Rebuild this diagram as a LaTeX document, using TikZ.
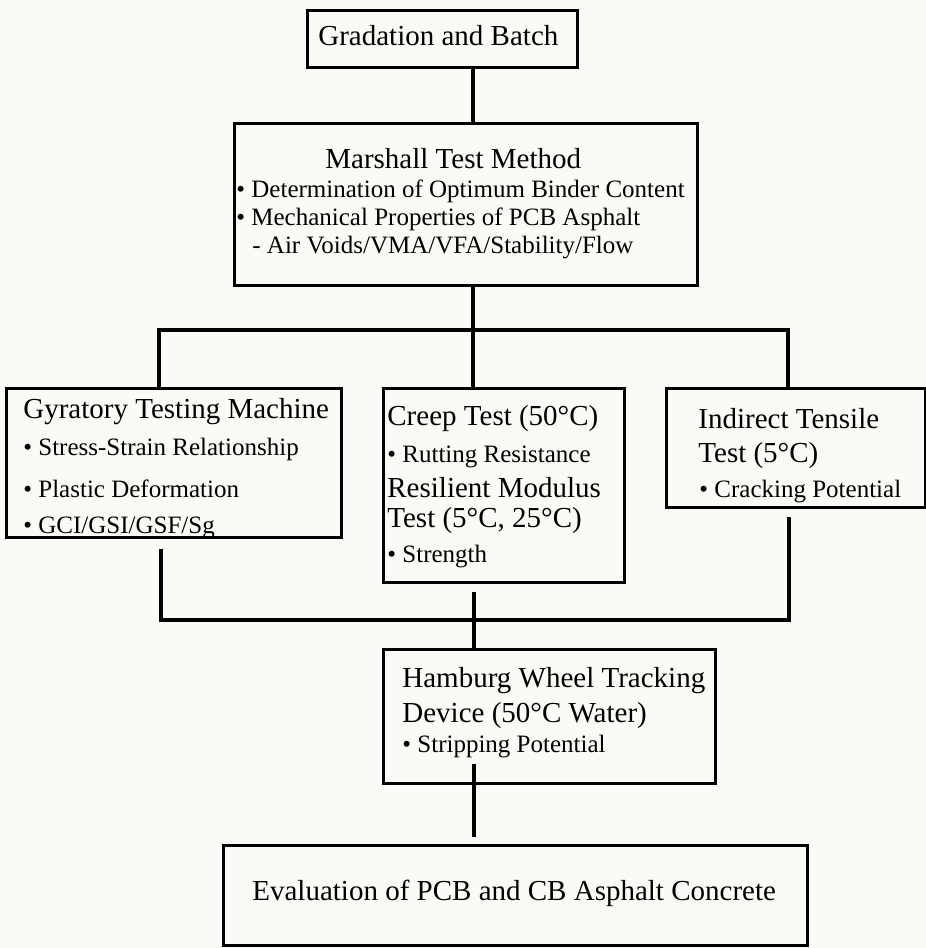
\documentclass[tikz,border=0pt]{standalone}
\usepackage{fontspec}
\setmainfont{Liberation Serif}
\usetikzlibrary{fit}
\definecolor{paper}{RGB}{250,250,246}
\tikzset{
  box/.style={draw, line width=1.5pt, inner sep=0pt},
  head/.style={anchor=base west, inner sep=0pt, font=\fontsize{14.5}{17}\selectfont},
  item/.style={anchor=base west, inner sep=0pt, font=\fontsize{12.5}{15}\selectfont},
  link/.style={line width=1.6pt},
}

\begin{document}
\begin{tikzpicture}[x=0.5pt,y=-0.5pt]
  \fill[paper] (0,0) rectangle (926,948);
  \useasboundingbox (0,0) rectangle (926,948);

  % boxes
  \node[box, fit={(307,10) (577,67)}] (gradation) {};
  \node[box, fit={(234,123) (697,285)}] (marshall) {};
  \node[box, fit={(6,388) (341,537)}] (gyratory) {};
  \node[box, fit={(383,388) (624,582)}] (creep) {};
  \node[box, fit={(666,388) (925,507)}] (indirect) {};
  \node[box, fit={(383,649) (715,783)}] (hamburg) {};
  \node[box, fit={(223,845) (807,945)}] (evaluation) {};

  % texts
  \node[head] (gradation-1) at (318,45) {Gradation and Batch};

  \node[head] (marshall-1) at (325,168) {Marshall Test Method};
  \node[item] (marshall-2) at (236,197) {• Determination of Optimum Binder Content};
  \node[item] (marshall-3) at (236,225) {• Mechanical Properties of PCB Asphalt};
  \node[item] (marshall-4) at (252,253) {- Air Voids/VMA/VFA/Stability/Flow};

  \node[head] (gyratory-1) at (23,418) {Gyratory Testing Machine};
  \node[item] (gyratory-2) at (23,455) {• Stress-Strain Relationship};
  \node[item] (gyratory-3) at (23,497) {• Plastic Deformation};
  \node[item] (gyratory-4) at (23,533) {• GCI/GSI/GSF/Sg};

  \node[head] (creep-1) at (387,425) {Creep Test (50°C)};
  \node[item] (creep-2) at (387,462) {• Rutting Resistance};
  \node[head] (creep-3) at (387,497) {Resilient Modulus};
  \node[head] (creep-4) at (387,527) {Test (5°C, 25°C)};
  \node[item] (creep-5) at (387,562) {• Strength};

  \node[head] (indirect-1) at (698,428) {Indirect Tensile};
  \node[head] (indirect-2) at (698,462) {Test (5°C)};
  \node[item] (indirect-3) at (699,497) {• Cracking Potential};

  \node[head] (hamburg-1) at (402,687) {Hamburg Wheel Tracking};
  \node[head] (hamburg-2) at (402,722) {Device (50°C Water)};
  \node[item] (hamburg-3) at (402,752) {• Stripping Potential};

  \node[head] (evaluation-1) at (252,900) {Evaluation of PCB and CB Asphalt Concrete};

  % junctions
  \coordinate (topjoin) at (473,330);
  \coordinate (ltop) at (159,330);
  \coordinate (rtop) at (788,330);
  \coordinate (botjoin) at (474,620);
  \coordinate (lbot) at (161,620);
  \coordinate (rbot) at (789,620);

  % connectors
  \draw[link] (gradation.south -| topjoin) -- (marshall.north -| topjoin);
  \draw[link] (marshall.south -| topjoin) -- (creep.north -| topjoin);
  \draw[link] (gyratory.north -| ltop) -- (ltop) -- (rtop) -- (indirect.north -| rtop);
  \draw[link, shorten <=5pt, shorten >=4pt] (gyratory.south -| lbot) -- (lbot) -- (rbot) -- (indirect.south -| rbot);
  \draw[link, shorten <=4pt] (creep.south -| botjoin) -- (hamburg.north -| botjoin);
  \draw[link, shorten <=-10.5pt, shorten >=3.5pt] (hamburg.south -| botjoin) -- (evaluation.north -| botjoin);
\end{tikzpicture}
\end{document}
